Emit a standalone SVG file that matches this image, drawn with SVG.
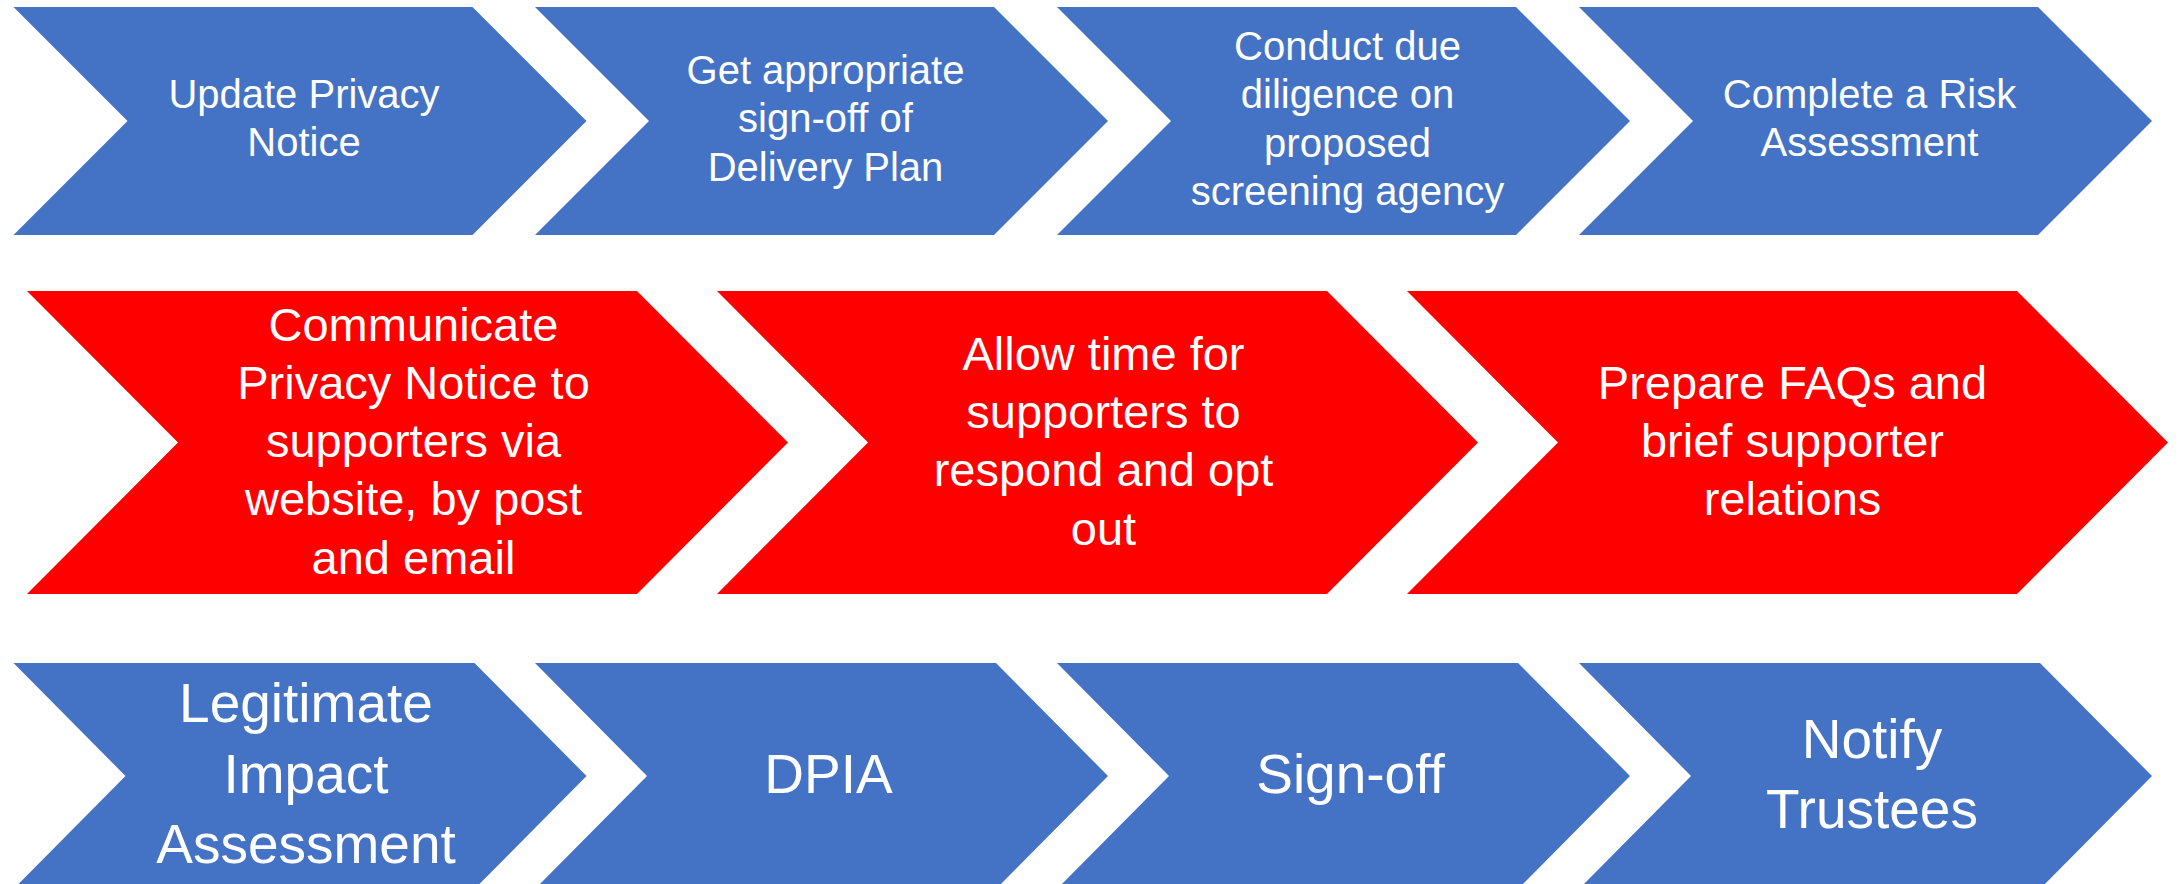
<svg xmlns="http://www.w3.org/2000/svg" width="2181" height="884" viewBox="0 0 2181 884">
  <style>
    .blue { fill: #4472C4; }
    .red { fill: #FF0000; }
    text { fill: #FFFFFF; font-family: "Liberation Sans", Arial, sans-serif; text-anchor: middle; }
    .t1 { font-size: 40px; }
    .t2 { font-size: 47px; }
    .t3 { font-size: 55px; }
  </style>
  <rect width="2181" height="884" fill="#FFFFFF"/>

  <!-- Row 1: preparation steps -->
  <g id="update-privacy-notice">
    <path class="blue" d="M13.5,7 L472.5,7 L586.5,121 L472.5,235 L13.5,235 L127.5,121 Z"/>
    <text class="t1" x="304" y="108">Update Privacy</text>
    <text class="t1" x="304" y="156">Notice</text>
  </g>
  <g id="delivery-plan-signoff">
    <path class="blue" d="M535,7 L994,7 L1108,121 L994,235 L535,235 L649,121 Z"/>
    <text class="t1" x="825.5" y="83.5">Get appropriate</text>
    <text class="t1" x="825.5" y="132">sign-off of</text>
    <text class="t1" x="825.5" y="180.5">Delivery Plan</text>
  </g>
  <g id="due-diligence">
    <path class="blue" d="M1057,7 L1516,7 L1630,121 L1516,235 L1057,235 L1171,121 Z"/>
    <text class="t1" x="1347.5" y="59.5">Conduct due</text>
    <text class="t1" x="1347.5" y="108">diligence on</text>
    <text class="t1" x="1347.5" y="156.5">proposed</text>
    <text class="t1" x="1347.5" y="205">screening agency</text>
  </g>
  <g id="risk-assessment">
    <path class="blue" d="M1579,7 L2038,7 L2152,121 L2038,235 L1579,235 L1693,121 Z"/>
    <text class="t1" x="1869.5" y="108">Complete a Risk</text>
    <text class="t1" x="1869.5" y="156">Assessment</text>
  </g>

  <!-- Row 2: supporter communication steps -->
  <g id="communicate-notice">
    <path class="red" d="M27,291 L637,291 L788,442.5 L637,594 L27,594 L178,442.5 Z"/>
    <text class="t2" x="413.5" y="340.5">Communicate</text>
    <text class="t2" x="413.5" y="398.7">Privacy Notice to</text>
    <text class="t2" x="413.5" y="457">supporters via</text>
    <text class="t2" x="413.5" y="515.3">website, by post</text>
    <text class="t2" x="413.5" y="573.6">and email</text>
  </g>
  <g id="allow-opt-out">
    <path class="red" d="M717,291 L1327,291 L1478,442.5 L1327,594 L717,594 L868,442.5 Z"/>
    <text class="t2" x="1103.5" y="369.5">Allow time for</text>
    <text class="t2" x="1103.5" y="427.8">supporters to</text>
    <text class="t2" x="1103.5" y="486.2">respond and opt</text>
    <text class="t2" x="1103.5" y="544.5">out</text>
  </g>
  <g id="prepare-faqs">
    <path class="red" d="M1407,291 L2017,291 L2168,442.5 L2017,594 L1407,594 L1558,442.5 Z"/>
    <text class="t2" x="1792.5" y="398.7">Prepare FAQs and</text>
    <text class="t2" x="1792.5" y="457">brief supporter</text>
    <text class="t2" x="1792.5" y="515.3">relations</text>
  </g>

  <!-- Row 3: assessment and approval steps -->
  <g id="legitimate-impact-assessment">
    <path class="blue" d="M13.5,663 L474.5,663 L586.5,776 L474.5,889 L13.5,889 L125.5,776 Z"/>
    <text class="t3" x="306" y="722.4">Legitimate</text>
    <text class="t3" x="306" y="792.7">Impact</text>
    <text class="t3" x="306" y="863">Assessment</text>
  </g>
  <g id="dpia">
    <path class="blue" d="M535,663 L996,663 L1108,776 L996,889 L535,889 L647,776 Z"/>
    <text class="t3" x="828.5" y="792.7">DPIA</text>
  </g>
  <g id="sign-off">
    <path class="blue" d="M1057,663 L1518,663 L1630,776 L1518,889 L1057,889 L1169,776 Z"/>
    <text class="t3" x="1350.5" y="792.7">Sign-off</text>
  </g>
  <g id="notify-trustees">
    <path class="blue" d="M1579,663 L2040,663 L2152,776 L2040,889 L1579,889 L1691,776 Z"/>
    <text class="t3" x="1872" y="757.5">Notify</text>
    <text class="t3" x="1872" y="827.8">Trustees</text>
  </g>
</svg>
